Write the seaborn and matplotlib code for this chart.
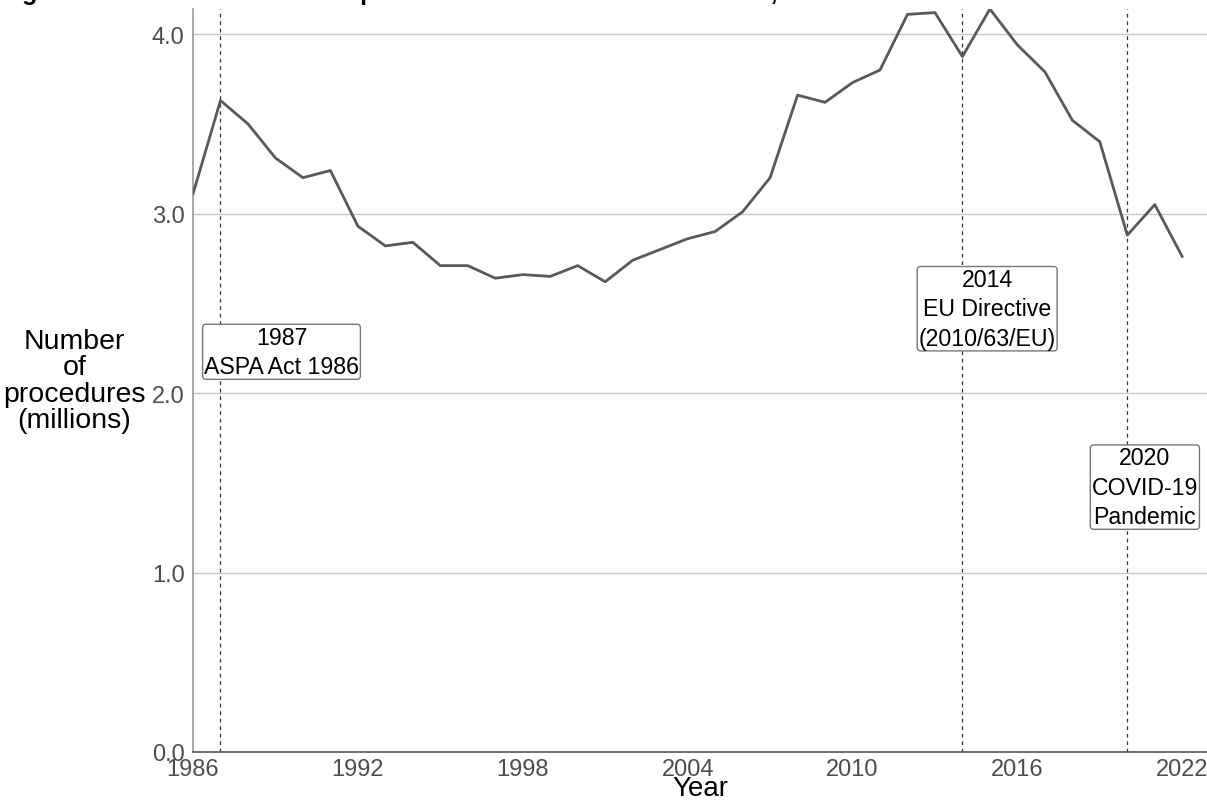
import pandas as pd
import matplotlib.pyplot as plt
import seaborn as sns

years = list(range(1986, 2023))
procedures = [3.11, 3.63, 3.50, 3.31, 3.20, 3.24, 2.93, 2.82, 2.84, 2.71,
              2.71, 2.64, 2.66, 2.65, 2.71, 2.62, 2.74, 2.80, 2.86, 2.90,
              3.01, 3.20, 3.66, 3.62, 3.73, 3.80, 4.11, 4.12, 3.875, 4.14,
              3.94, 3.79, 3.52, 3.40, 2.88, 3.05, 2.76]

event_years = [1987, 2014, 2020]
event_labels = ["1987\nASPA Act 1986",
                "2014\nEU Directive\n(2010/63/EU)",
                "2020\nCOVID-19\nPandemic"]
label_x = [1989.22, 2014.9, 2020.64]
label_y = [2.23, 2.47, 1.476]

df = pd.DataFrame({"Year": years, "Procedures": procedures})

sns.set_style("white")
plt.rcParams['font.family'] = ['Liberation Sans', 'DejaVu Sans']

fig = plt.figure(figsize=(12.07, 8.04), dpi=100)
ax = fig.add_axes([193 / 1207, 51 / 804, 1014 / 1207, 743 / 804])

for v in [0, 1, 2, 3, 4]:
    ax.axhline(v, color="#c8c8c8", lw=1, zorder=0)

sns.lineplot(data=df, x="Year", y="Procedures", color="#595959", lw=2, ax=ax, zorder=3)

for yr, txt, lx, ly in zip(event_years, event_labels, label_x, label_y):
    ax.axvline(yr, color="#333333", lw=0.9, ls=(0, (3, 3)), zorder=2)
    ax.text(lx, ly, txt, ha="center", va="center", fontsize=16.7, color="black",
            linespacing=1.35, zorder=4,
            bbox=dict(boxstyle="round,pad=0.06,rounding_size=0.15", fc="white", ec="#777777", lw=1))

ax.set_xlim(1986, 2022.9)
ax.set_ylim(0, 4.14)
ax.set_xticks(range(1986, 2023, 6))
ax.set_yticks([0, 1, 2, 3, 4])
ax.set_yticklabels(["0.0", "1.0", "2.0", "3.0", "4.0"])
ax.tick_params(axis="both", labelsize=17, colors="#4d4d4d", length=4, width=1, pad=2)
ax.tick_params(axis="x", pad=0)

sns.despine(ax=ax)
ax.spines["left"].set_color("#999999")
ax.spines["bottom"].set_color("#555555")
ax.spines["left"].set_linewidth(1.2)
ax.spines["bottom"].set_linewidth(1.2)

ax.set_xlabel("Year", fontsize=20, color="black", labelpad=-3)
ax.set_ylabel("Number\nof\nprocedures\n(millions)", fontsize=20.5, color="black",
              rotation=0, ha="center", va="center", linespacing=1.03)
ax.yaxis.set_label_coords(-0.117, 0.5)

fig.text(0.0, 1.0, "Figure 1: Number of scientific procedures carried out on animals, 1986 to 2022",
         fontsize=18, fontweight="bold", ha="left", va="baseline", color="black")

plt.savefig("out.png", dpi=100)
plt.close('all')
